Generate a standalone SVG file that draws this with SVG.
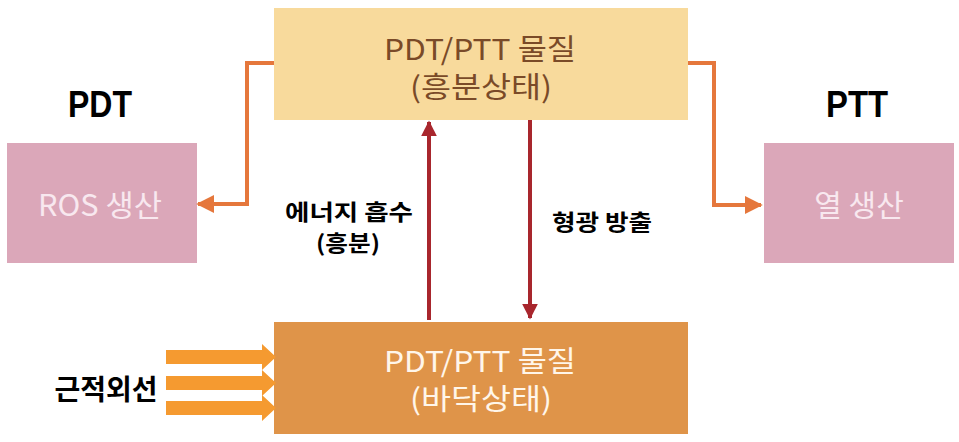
<svg xmlns="http://www.w3.org/2000/svg" width="959" height="442" viewBox="0 0 959 442">
<defs>
<style>
.t{font-family:"Noto Sans CJK KR","Liberation Sans",sans-serif;text-anchor:middle}
.b{font-weight:bold;fill:#000}
.o{fill:none;stroke:#E5773C;stroke-width:4}
.r{fill:none;stroke:#A8262D;stroke-width:4}
.ir{fill:#F59A30}
</style>
<marker id="ao" viewBox="0 0 10 10" refX="9" refY="5" markerWidth="4.5" markerHeight="4.5" orient="auto" markerUnits="strokeWidth"><path d="M0,0 L10,5 L0,10 Z" fill="#E5773C"/></marker>
<marker id="ar" viewBox="0 0 10 10" refX="9" refY="5" markerWidth="4" markerHeight="4" orient="auto" markerUnits="strokeWidth"><path d="M0,0 L10,5 L0,10 Z" fill="#A8262D"/></marker>
</defs>
<rect width="959" height="442" fill="#fff"/>
<g id="excited">
<rect x="274" y="8" width="414" height="112" fill="#F8DA9C"/>
<text class="t" x="480" y="60" font-size="29" fill="#7A4A28" textLength="192" lengthAdjust="spacingAndGlyphs">PDT/PTT 물질</text>
<text class="t" x="481" y="98" font-size="29" fill="#7A4A28" textLength="142" lengthAdjust="spacingAndGlyphs">(흥분상태)</text>
</g>
<g id="ground">
<rect x="274" y="322" width="414" height="112" fill="#DF9449"/>
<text class="t" x="480" y="372" font-size="29" fill="#FFF6EA" textLength="192" lengthAdjust="spacingAndGlyphs">PDT/PTT 물질</text>
<text class="t" x="481" y="410" font-size="29" fill="#FFF6EA" textLength="142" lengthAdjust="spacingAndGlyphs">(바닥상태)</text>
</g>
<g id="ros">
<rect x="7" y="143" width="190" height="120" fill="#DBA7B9"/>
<text class="t" x="100" y="216" font-size="30" fill="#F8E8EF" textLength="124" lengthAdjust="spacingAndGlyphs">ROS 생산</text>
</g>
<g id="heat">
<rect x="764" y="143" width="190" height="120" fill="#DBA7B9"/>
<text class="t" x="859" y="216" font-size="30" fill="#F8E8EF">열 생산</text>
</g>
<g id="labels">
<text class="t b" x="100" y="117" font-size="36" textLength="64" lengthAdjust="spacingAndGlyphs" style="font-family:'Liberation Sans',sans-serif">PDT</text>
<text class="t b" x="857" y="117" font-size="36" textLength="62" lengthAdjust="spacingAndGlyphs" style="font-family:'Liberation Sans',sans-serif">PTT</text>
<text class="t b" x="106" y="400" font-size="28">근적외선</text>
<text class="t b" x="349" y="220" font-size="22" textLength="128" lengthAdjust="spacingAndGlyphs">에너지 흡수</text>
<text class="t b" x="348" y="251" font-size="22" textLength="64" lengthAdjust="spacingAndGlyphs">(흥분)</text>
<text class="t b" x="602" y="230" font-size="22" textLength="100" lengthAdjust="spacingAndGlyphs">형광 방출</text>
</g>
<g id="nir">
<path class="ir" d="M166,350 H262 V344 L276,357 L262,370 V364 H166 Z"/>
<path class="ir" d="M166,376 H262 V370 L276,383 L262,396 V390 H166 Z"/>
<path class="ir" d="M166,401 H262 V395 L276,408 L262,421 V415 H166 Z"/>
</g>
<g id="connectors">
<path class="o" d="M274,63 H247 V204 H198" marker-end="url(#ao)"/>
<path class="o" d="M688,63 H714 V205 H761" marker-end="url(#ao)"/>
<path class="r" d="M429,320 V122" marker-end="url(#ar)"/>
<path class="r" d="M530,120 V318" marker-end="url(#ar)"/>
</g>
</svg>
